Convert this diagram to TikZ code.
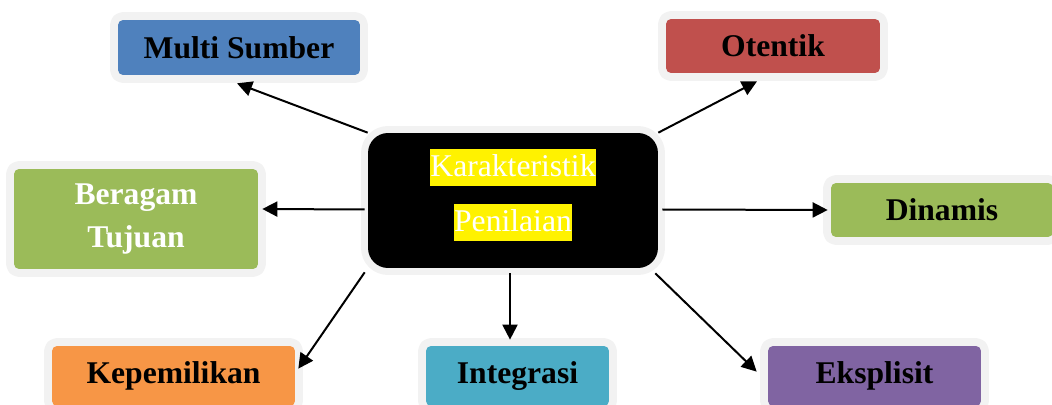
\documentclass[tikz,border=0pt]{standalone}
\usepackage{fontspec}
\setmainfont{Liberation Serif}
\usetikzlibrary{shapes,arrows.meta,positioning}
\definecolor{biru}{HTML}{4F81BD}
\definecolor{merah}{HTML}{C0504D}
\definecolor{hijau}{HTML}{9BBB59}
\definecolor{jingga}{HTML}{F79646}
\definecolor{tosca}{HTML}{4BACC6}
\definecolor{ungu}{HTML}{8064A2}
\definecolor{abu}{HTML}{F2F2F2}
\tikzstyle{kotak} = [rectangle, rounded corners=0.1cm, inner sep=0pt, minimum height=1.08cm, font=\fontsize{18}{25}\selectfont\bfseries, preaction={draw=abu, line width=0.32cm, line join=round}]
\tikzstyle{pusat} = [rectangle, fill=black, rounded corners=0.4cm, minimum width=5.8cm, minimum height=2.7cm, preaction={draw=abu, line width=0.28cm, line join=round}]
\tikzstyle{sorot} = [fill=yellow, text=white, inner sep=0pt, text height=15.5pt, text depth=5.5pt, font=\fontsize{18}{19}\selectfont]
\tikzstyle{panah} = [-{Triangle[length=0.3cm,width=0.3cm]}, line width=0.04cm]

\begin{document}
\begin{tikzpicture}[x=0.02cm, y=-0.02cm]
	\useasboundingbox (0,0) rectangle (1052,405);
	\node [pusat] (ctr) at (513,200.5) {};
	\node [sorot] (kt) at (513,167.5) {Karakteristik};
	\node [sorot] (pn) at (513,222.5) {Penilaian};

	\node [kotak, fill=biru, minimum width=4.84cm, minimum height=1.1cm] (ms) at (239,47.5) {Multi Sumber};
	\node [kotak, fill=merah, minimum width=4.28cm] (ot) at (773,46) {Otentik};
	\node [kotak, fill=hijau, text=white, align=center, minimum width=4.88cm, minimum height=2cm] (bt) at (136,219) {Beragam\\Tujuan};
	\node [kotak, fill=hijau, minimum width=4.44cm] (di) at (942,210) {Dinamis};
	\node [kotak, fill=jingga, minimum width=4.86cm, minimum height=1.2cm] (kp) at (173.5,376) {Kepemilikan};
	\node [kotak, fill=tosca, minimum width=3.66cm, minimum height=1.2cm] (ig) at (517.5,376) {Integrasi};
	\node [kotak, fill=ungu, minimum width=4.26cm, minimum height=1.2cm] (ek) at (874.5,376) {Eksplisit};

	\draw [panah] (ctr.north west) -- ([shift={(-2,8)}]ms.south);
	\draw [panah] (ctr.north east) -- ([shift={(-16,8)}]ot.south);
	\draw [panah] ([shift={(-3,9)}]ctr.west) -- ([shift={(4,-10)}]bt.east);
	\draw [panah] ([shift={(4,9)}]ctr.east) -- ([shift={(-3,0)}]di.west);
	\draw [panah] ([shift={(-3,4)}]ctr.south west) -- ([shift={(3,23)}]kp.north east);
	\draw [panah] ([shift={(-3,5)}]ctr.south) -- ([shift={(-7.5,-6)}]ig.north);
	\draw [panah] ([shift={(-3,5)}]ctr.south east) -- ([shift={(-11,26)}]ek.north west);
\end{tikzpicture}
\end{document}
